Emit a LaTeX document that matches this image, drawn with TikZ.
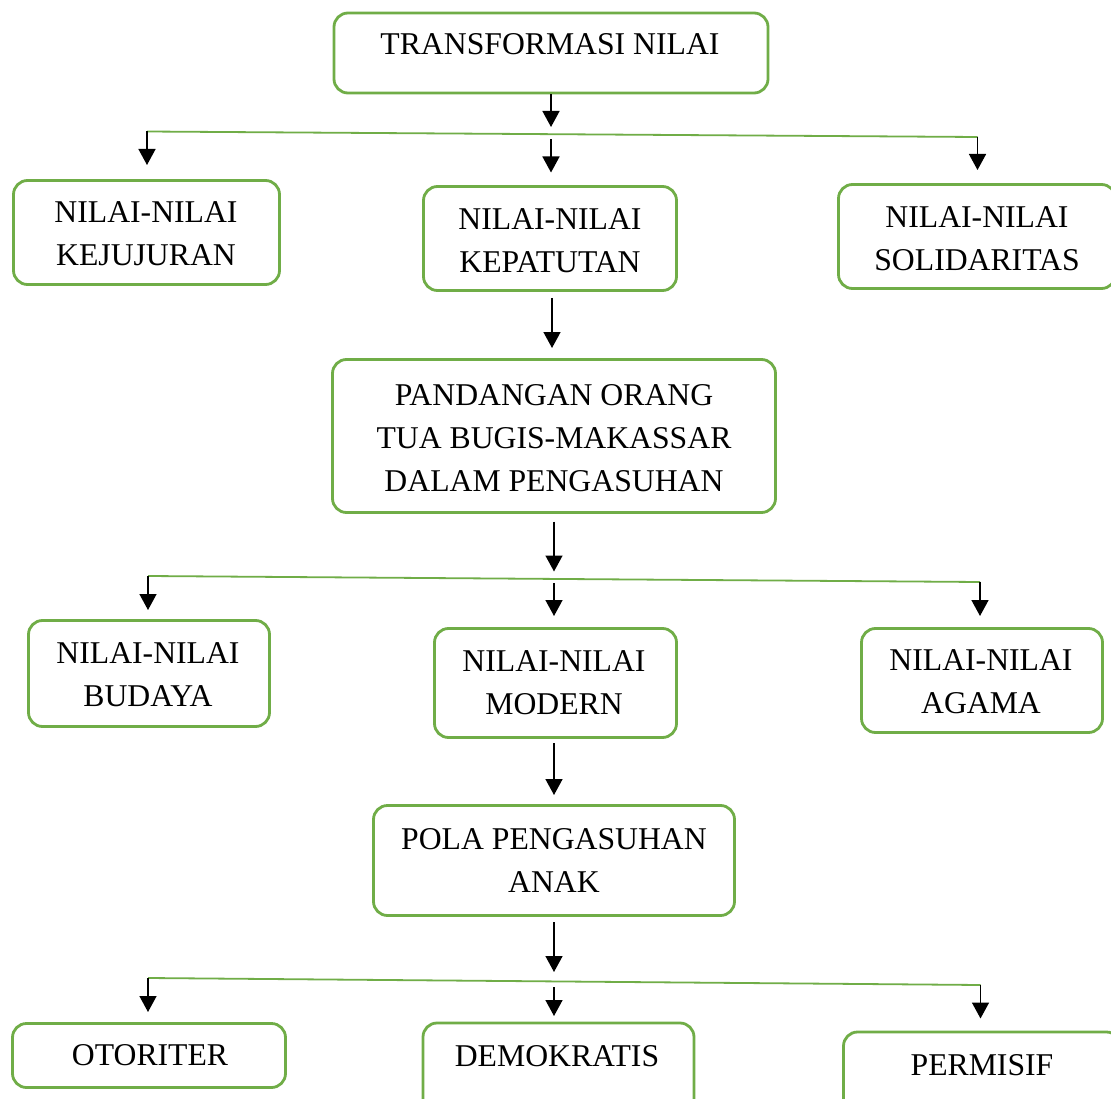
\documentclass[tikz,border=0pt]{standalone}
\usepackage{fontspec}
\setmainfont{Liberation Serif}
\usetikzlibrary{arrows.meta}
\definecolor{boxgreen}{HTML}{70AD47}
\begin{document}
\begin{tikzpicture}[x=1pt,y=-1pt,
  box/.style={draw=boxgreen,line width=2.8pt,rounded corners=14pt,inner sep=0pt,fill=white},
  txt/.style={align=center,inner sep=0pt,font=\fontsize{31.7}{43}\selectfont},
  arr/.style={draw=black,line width=1.5pt,-{Triangle[length=16pt,width=17pt]}},
  bus/.style={draw=boxgreen,line width=1.8pt}]
\useasboundingbox (0,0) rectangle (1111,1099);
\fill[white] (0,0) rectangle (1111,1099);

% boxes
\node[box,minimum width=434pt,minimum height=80pt] (b1) at (551,53) {};
\node[box,minimum width=266pt,minimum height=104pt] (b2) at (146.5,232.5) {};
\node[box,minimum width=253pt,minimum height=104pt] (b3) at (550,238.5) {};
\node[box,minimum width=277pt,minimum height=104pt] (b4) at (977,236.5) {};
\node[box,minimum width=443pt,minimum height=153pt] (b5) at (554,436) {};
\node[box,minimum width=241pt,minimum height=106pt] (b6) at (149,673.5) {};
\node[box,minimum width=242pt,minimum height=109pt] (b7) at (555.5,683) {};
\node[box,minimum width=241pt,minimum height=104pt] (b8) at (982,680.5) {};
\node[box,minimum width=361pt,minimum height=110pt] (b9) at (554,860.5) {};
\node[box,minimum width=273pt,minimum height=64pt] (b10) at (149,1055.5) {};
\node[box,minimum width=271pt,minimum height=100pt] (b11) at (558.5,1073) {};
\node[box,minimum width=277pt,minimum height=100pt] (b12) at (982,1082) {};

% texts
\node[txt] (t1) at (550,44.5) {TRANSFORMASI NILAI};
\node[txt] (t2) at (146,233.75) {NILAI-NILAI\\KEJUJURAN};
\node[txt] (t3) at (550,240.5) {NILAI-NILAI\\KEPATUTAN};
\node[txt] (t4) at (977,238.5) {NILAI-NILAI\\SOLIDARITAS};
\node[txt] (t5) at (554,438.5) {PANDANGAN ORANG\\TUA BUGIS-MAKASSAR\\DALAM PENGASUHAN};
\node[txt] (t6) at (148,675) {NILAI-NILAI\\BUDAYA};
\node[txt] (t7) at (554,683) {NILAI-NILAI\\MODERN};
\node[txt] (t8) at (981,682) {NILAI-NILAI\\AGAMA};
\node[txt] (t9) at (554,860) {POLA PENGASUHAN\\ANAK};
\node[txt] (t10) at (150,1055) {OTORITER};
\node[txt] (t11) at (557,1056) {DEMOKRATIS};
\node[txt] (t12) at (982,1065) {PERMISIF};

% level 1 connectors
\coordinate (f1) at (551,127);
\coordinate (bus1L) at (147,131.5);
\coordinate (bus1R) at (977.5,137);
\coordinate (m1) at (551,139.5);
\coordinate (s1L) at (147,165);
\coordinate (s1M) at (551,172.5);
\coordinate (s1R) at (977.5,170);
\draw[arr] (b1.south) -- (f1);
\draw[bus] (bus1L) -- (bus1R);
\draw[arr] (bus1L) -- (s1L);
\draw[arr] (m1) -- (s1M);
\draw[arr] (bus1R) -- (s1R);

% kepatutan -> pandangan
\coordinate (a2s) at (552,298);
\coordinate (a2e) at (552,348);
\draw[arr] (a2s) -- (a2e);

% level 2 connectors
\coordinate (a3s) at (554,521.5);
\coordinate (f2) at (554,571.5);
\coordinate (bus2L) at (148,576);
\coordinate (bus2R) at (980,582);
\coordinate (m2) at (554,583);
\coordinate (s2L) at (148,610);
\coordinate (s2M) at (554,616);
\coordinate (s2R) at (980,616);
\draw[arr] (a3s) -- (f2);
\draw[bus] (bus2L) -- (bus2R);
\draw[arr] (bus2L) -- (s2L);
\draw[arr] (m2) -- (s2M);
\draw[arr] (bus2R) -- (s2R);

% modern -> pola
\coordinate (a4s) at (554,743);
\coordinate (a4e) at (554,795);
\draw[arr] (a4s) -- (a4e);

% level 3 connectors
\coordinate (a5s) at (554,922);
\coordinate (f3) at (554,972);
\coordinate (bus3L) at (148,978);
\coordinate (bus3R) at (980.5,985);
\coordinate (m3) at (554,987);
\coordinate (s3L) at (148,1012);
\coordinate (s3M) at (554,1016);
\coordinate (s3R) at (980.5,1018.5);
\draw[arr] (a5s) -- (f3);
\draw[bus] (bus3L) -- (bus3R);
\draw[arr] (bus3L) -- (s3L);
\draw[arr] (m3) -- (s3M);
\draw[arr] (bus3R) -- (s3R);
\end{tikzpicture}
\end{document}
